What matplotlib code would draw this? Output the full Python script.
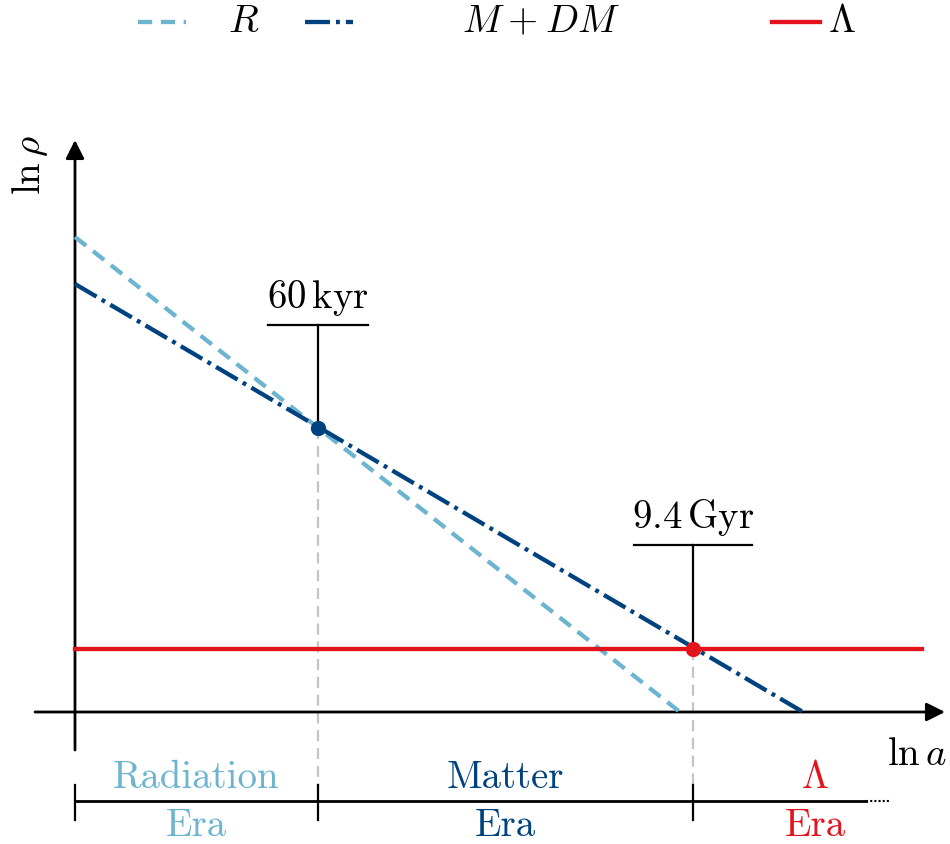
import numpy as np
import matplotlib.pyplot as plt
from matplotlib.lines import Line2D

plt.rcParams['font.family'] = 'cmr10'
plt.rcParams['mathtext.fontset'] = 'cm'
plt.rcParams['axes.unicode_minus'] = False

# densities (ln rho) vs ln a, arbitrary units
lna_R = [0.0, 6.05]
lnrho_R = [4.75, 0.0]
lna_M = [0.0, 7.28]
lnrho_M = [4.28, 0.0]
lna_L = [0.0, 8.47]
lnrho_L = [0.63, 0.63]

# equality points
eq_lna = [2.43, 6.18]
eq_lnrho = [2.84, 0.63]
eq_labels = [r'$60\,\mathrm{kyr}$', r'$9.4\,\mathrm{Gyr}$']
eq_label_h = [3.87, 1.67]

eras = ['Radiation', 'Matter', r'$\Lambda$']
era_edges = [0.0, 2.43, 6.18, 7.91]

c_R = '#6cb4cf'
c_M = '#00427f'
c_L = '#e3141c'
era_cols = [c_R, c_M, c_L]

ls_R = (0, (3.3, 2.0))
ls_M = (0, (5.8, 1.4, 0.9, 1.4))
lw = 3.1

fig = plt.figure(figsize=(9.5, 8.44), dpi=100)
ax = fig.add_axes([0, 0, 1, 1])
ax.set_xlim(-0.75, 8.75)
ax.set_ylim(-1.32, 7.12)
ax.axis('off')

fs = 28

# axes arrows
ax.annotate('', xy=(8.7, 0), xytext=(-0.4, 0),
            arrowprops=dict(arrowstyle='-|>', color='k', lw=2, mutation_scale=28, shrinkA=0, shrinkB=0))
ax.annotate('', xy=(0, 5.72), xytext=(0, -0.38),
            arrowprops=dict(arrowstyle='-|>', color='k', lw=2, mutation_scale=28, shrinkA=0, shrinkB=0))
ax.text(8.42, -0.43, r'$\ln a$', fontsize=fs, ha='center', va='center')
ax.text(-0.45, 5.47, r'$\ln \rho$', fontsize=fs, ha='center', va='center', rotation=90)

# grey guides
for x, y in zip(eq_lna, eq_lnrho):
    ax.plot([x, x], [y, -0.75], color='#c4c4c4', lw=1.6, ls=(0, (5, 3)), zorder=1)

ax.plot(lna_R, lnrho_R, color=c_R, lw=lw, ls=ls_R, zorder=3)
ax.plot(lna_M, lnrho_M, color=c_M, lw=lw, ls=ls_M, zorder=3)
ax.plot(lna_L, lnrho_L, color=c_L, lw=lw, zorder=3)

ax.plot(eq_lna[0], eq_lnrho[0], 'o', color=c_M, ms=10, zorder=5)
ax.plot(eq_lna[1], eq_lnrho[1], 'o', color=c_L, ms=10, zorder=5)

# annotations
for x, y, lab, h in zip(eq_lna, eq_lnrho, eq_labels, eq_label_h):
    ax.plot([x, x], [y, h], color='k', lw=1.6, zorder=4)
    w = 0.5 if x < 4 else 0.59
    ax.plot([x - w, x + w], [h, h], color='k', lw=1.6, zorder=4)
    ax.text(x, h + 0.07, lab, fontsize=fs, ha='center', va='bottom')

# era bar
bar_y = -0.89
ax.plot([0, era_edges[-1]], [bar_y, bar_y], color='k', lw=2)
ax.plot([era_edges[-1], 8.16], [bar_y, bar_y], color='k', lw=1.5, ls=(0, (1, 1)))
for x in era_edges[:3]:
    ax.plot([x, x], [bar_y - 0.19, bar_y + 0.16], color='k', lw=1.6)
era_centers = [1.21, 4.3, 7.4]
for x, name, col in zip(era_centers, eras, era_cols):
    ax.text(x, bar_y + 0.23, name, fontsize=fs, ha='center', va='center', color=col)
    ax.text(x, bar_y - 0.25, 'Era', fontsize=fs, ha='center', va='center', color=col)

# legend drawn by hand (figure pixel fractions)
leg_y = 1 - 22 / 844
leg_items = [(138, 228, c_R, ls_R, r'$R$'),
             (305, 462, c_M, ls_M, r'$M\:+\:DM$'),
             (772, 828, c_L, '-', r'$\Lambda$')]
for x0, xt, col, ls, lab in leg_items:
    fig.add_artist(Line2D([x0 / 950, (x0 + 48) / 950], [leg_y, leg_y], color=col, lw=lw, ls=ls))
    fig.text(xt / 950, leg_y, lab, fontsize=fs, ha='left', va='center')

fig.savefig('out.png', dpi=100)
